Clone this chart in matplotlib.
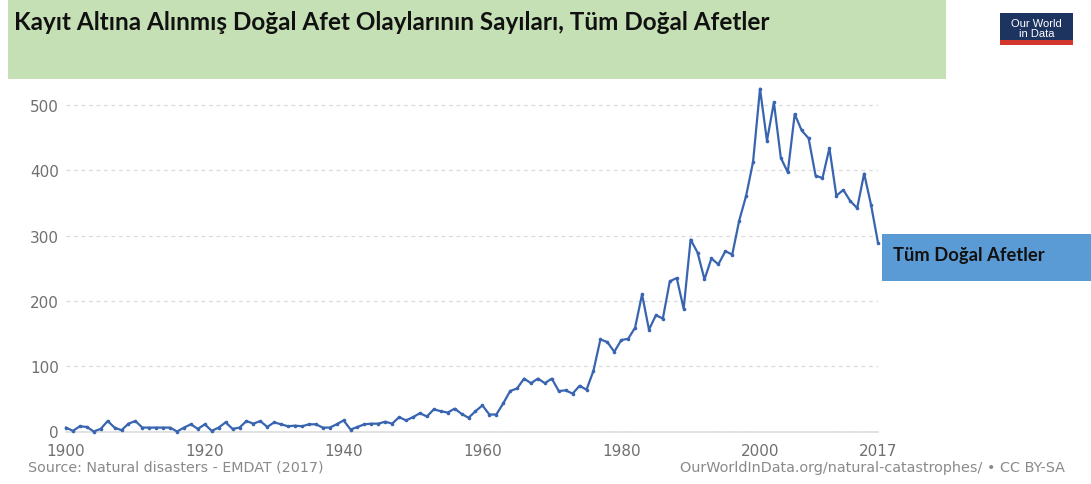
import matplotlib
matplotlib.use("Agg")
import matplotlib.pyplot as plt
from matplotlib.patches import Rectangle

# ---------------- data ----------------
years = list(range(1900, 2018))
disasters = [
    6, 1, 8, 7, 0, 4, 16, 6, 2, 12,          # 1900-1909
    16, 6, 6, 6, 6, 6, 0, 6, 11, 4,          # 1910-1919
    11, 1, 6, 14, 4, 6, 16, 12, 16, 7,       # 1920-1929
    14, 11, 8, 9, 8, 11, 11, 6, 6, 11,       # 1930-1939
    17, 3, 7, 11, 12, 12, 15, 12, 22, 17,    # 1940-1949
    22, 28, 23, 34, 31, 29, 35, 27, 21, 31,  # 1950-1959
    40, 26, 26, 43, 62, 66, 81, 74, 81, 74,  # 1960-1969
    81, 62, 63, 58, 70, 64, 93, 141, 137, 122,  # 1970-1979
    140, 142, 159, 210, 156, 178, 173, 230, 235, 188,  # 1980-1989
    294, 274, 233, 265, 256, 276, 271, 323, 361, 413,  # 1990-1999
    525, 445, 504, 419, 397, 486, 461, 449, 392, 388,  # 2000-2009
    434, 361, 370, 353, 342, 395, 347, 289,  # 2010-2017
]
y_ticks = [0, 100, 200, 300, 400, 500]
x_ticks = [1900, 1920, 1940, 1960, 1980, 2000, 2017]

title = "Kayıt Altına Alınmış Doğal Afet Olaylarının Sayıları, Tüm Doğal Afetler"
series_label = "Tüm Doğal Afetler"
source_left = "Source: Natural disasters - EMDAT (2017)"
source_right = "OurWorldInData.org/natural-catastrophes/ • CC BY-SA"

# ---------------- figure ----------------
W, H = 1091, 485
fig = plt.figure(figsize=(W / 100, H / 100), dpi=100)
fig.patch.set_facecolor("white")

def px(x, y):
    return x / W, 1 - y / H

# axes: x 66..878 px, y 0 at 432.5 px, top ~86 px
ax_left, ax_right = 66, 878
ax_bottom, ax_top = 432.5, 86.4
ax = fig.add_axes([ax_left / W, 1 - ax_bottom / H, (ax_right - ax_left) / W,
                   (ax_bottom - ax_top) / H])
ax.set_xlim(1900, 2017)
ax.set_ylim(0, 530)

line_color = "#3864b0"
ax.plot(years, disasters, color=line_color, lw=1.6, marker="o", markersize=2.6,
        markeredgewidth=0, zorder=3, clip_on=False)

ax.set_yticks(y_ticks)
ax.set_xticks(x_ticks)
ax.grid(axis="y", color="#dadada", linestyle=(0, (3, 3)), linewidth=0.9)
ax.grid(axis="x", visible=False)
for s in ["top", "right", "left"]:
    ax.spines[s].set_visible(False)
ax.spines["bottom"].set_color("#dddddd")
ax.spines["bottom"].set_linewidth(1.2)
ax.tick_params(axis="both", length=0, colors="#707070", labelsize=11)
ax.tick_params(axis="y", pad=5)
ax.tick_params(axis="x", pad=8)
for lab in ax.get_xticklabels() + ax.get_yticklabels():
    lab.set_family("DejaVu Sans")
ax.set_facecolor("none")

# ---------------- title banner ----------------
fig.patches.append(Rectangle(px(8, 80), (946 - 8) / W, 80 / H,
                             transform=fig.transFigure, facecolor="#c5e0b4",
                             edgecolor="none", zorder=0))

renderer = fig.canvas.get_renderer()

def fit(t, target_w):
    # scale font size so the rendered text spans target width in pixels
    for _ in range(3):
        bb = t.get_window_extent(renderer=renderer)
        t.set_fontsize(t.get_fontsize() * target_w / bb.width)
    return t

t_title = fig.text(*px(14, 23), title, ha="left", va="center", fontsize=18,
                   fontweight="bold", family=["Lato", "DejaVu Sans"], color="#111111")
fit(t_title, 756)

# ---------------- OWID logo ----------------
fig.patches.append(Rectangle(px(1000, 46), 73 / W, 32 / H, transform=fig.transFigure,
                             facecolor="#1d3461", edgecolor="none", zorder=1))
fig.patches.append(Rectangle(px(1000, 46), 73 / W, 5 / H, transform=fig.transFigure,
                             facecolor="#d2352b", edgecolor="none", zorder=2))
fig.text(*px(1036.5, 24), "Our World", ha="center", va="center", fontsize=8,
         color="white", family="Liberation Sans", zorder=3)
fig.text(*px(1036.5, 34), "in Data", ha="center", va="center", fontsize=8,
         color="white", family="Liberation Sans", zorder=3)

# ---------------- series label box ----------------
fig.patches.append(Rectangle(px(882, 282), (1091 - 882) / W, 47 / H,
                             transform=fig.transFigure, facecolor="#5b9bd5",
                             edgecolor="none", zorder=1))
t_lab = fig.text(*px(893, 256), series_label, ha="left", va="center", fontsize=12,
                 fontweight="bold", family=["Lato", "DejaVu Sans"], color="#111111",
                 zorder=3)
fit(t_lab, 151)

# ---------------- sources ----------------
t_s1 = fig.text(*px(28, 468), source_left, ha="left", va="center", fontsize=8,
                color="#8a8a8a", family="DejaVu Sans")
fit(t_s1, 295)
t_s2 = fig.text(*px(1065, 468), source_right, ha="right", va="center", fontsize=8,
                color="#8a8a8a", family="DejaVu Sans")
fit(t_s2, 385)

fig.savefig("out.png", dpi=100, facecolor="white")
